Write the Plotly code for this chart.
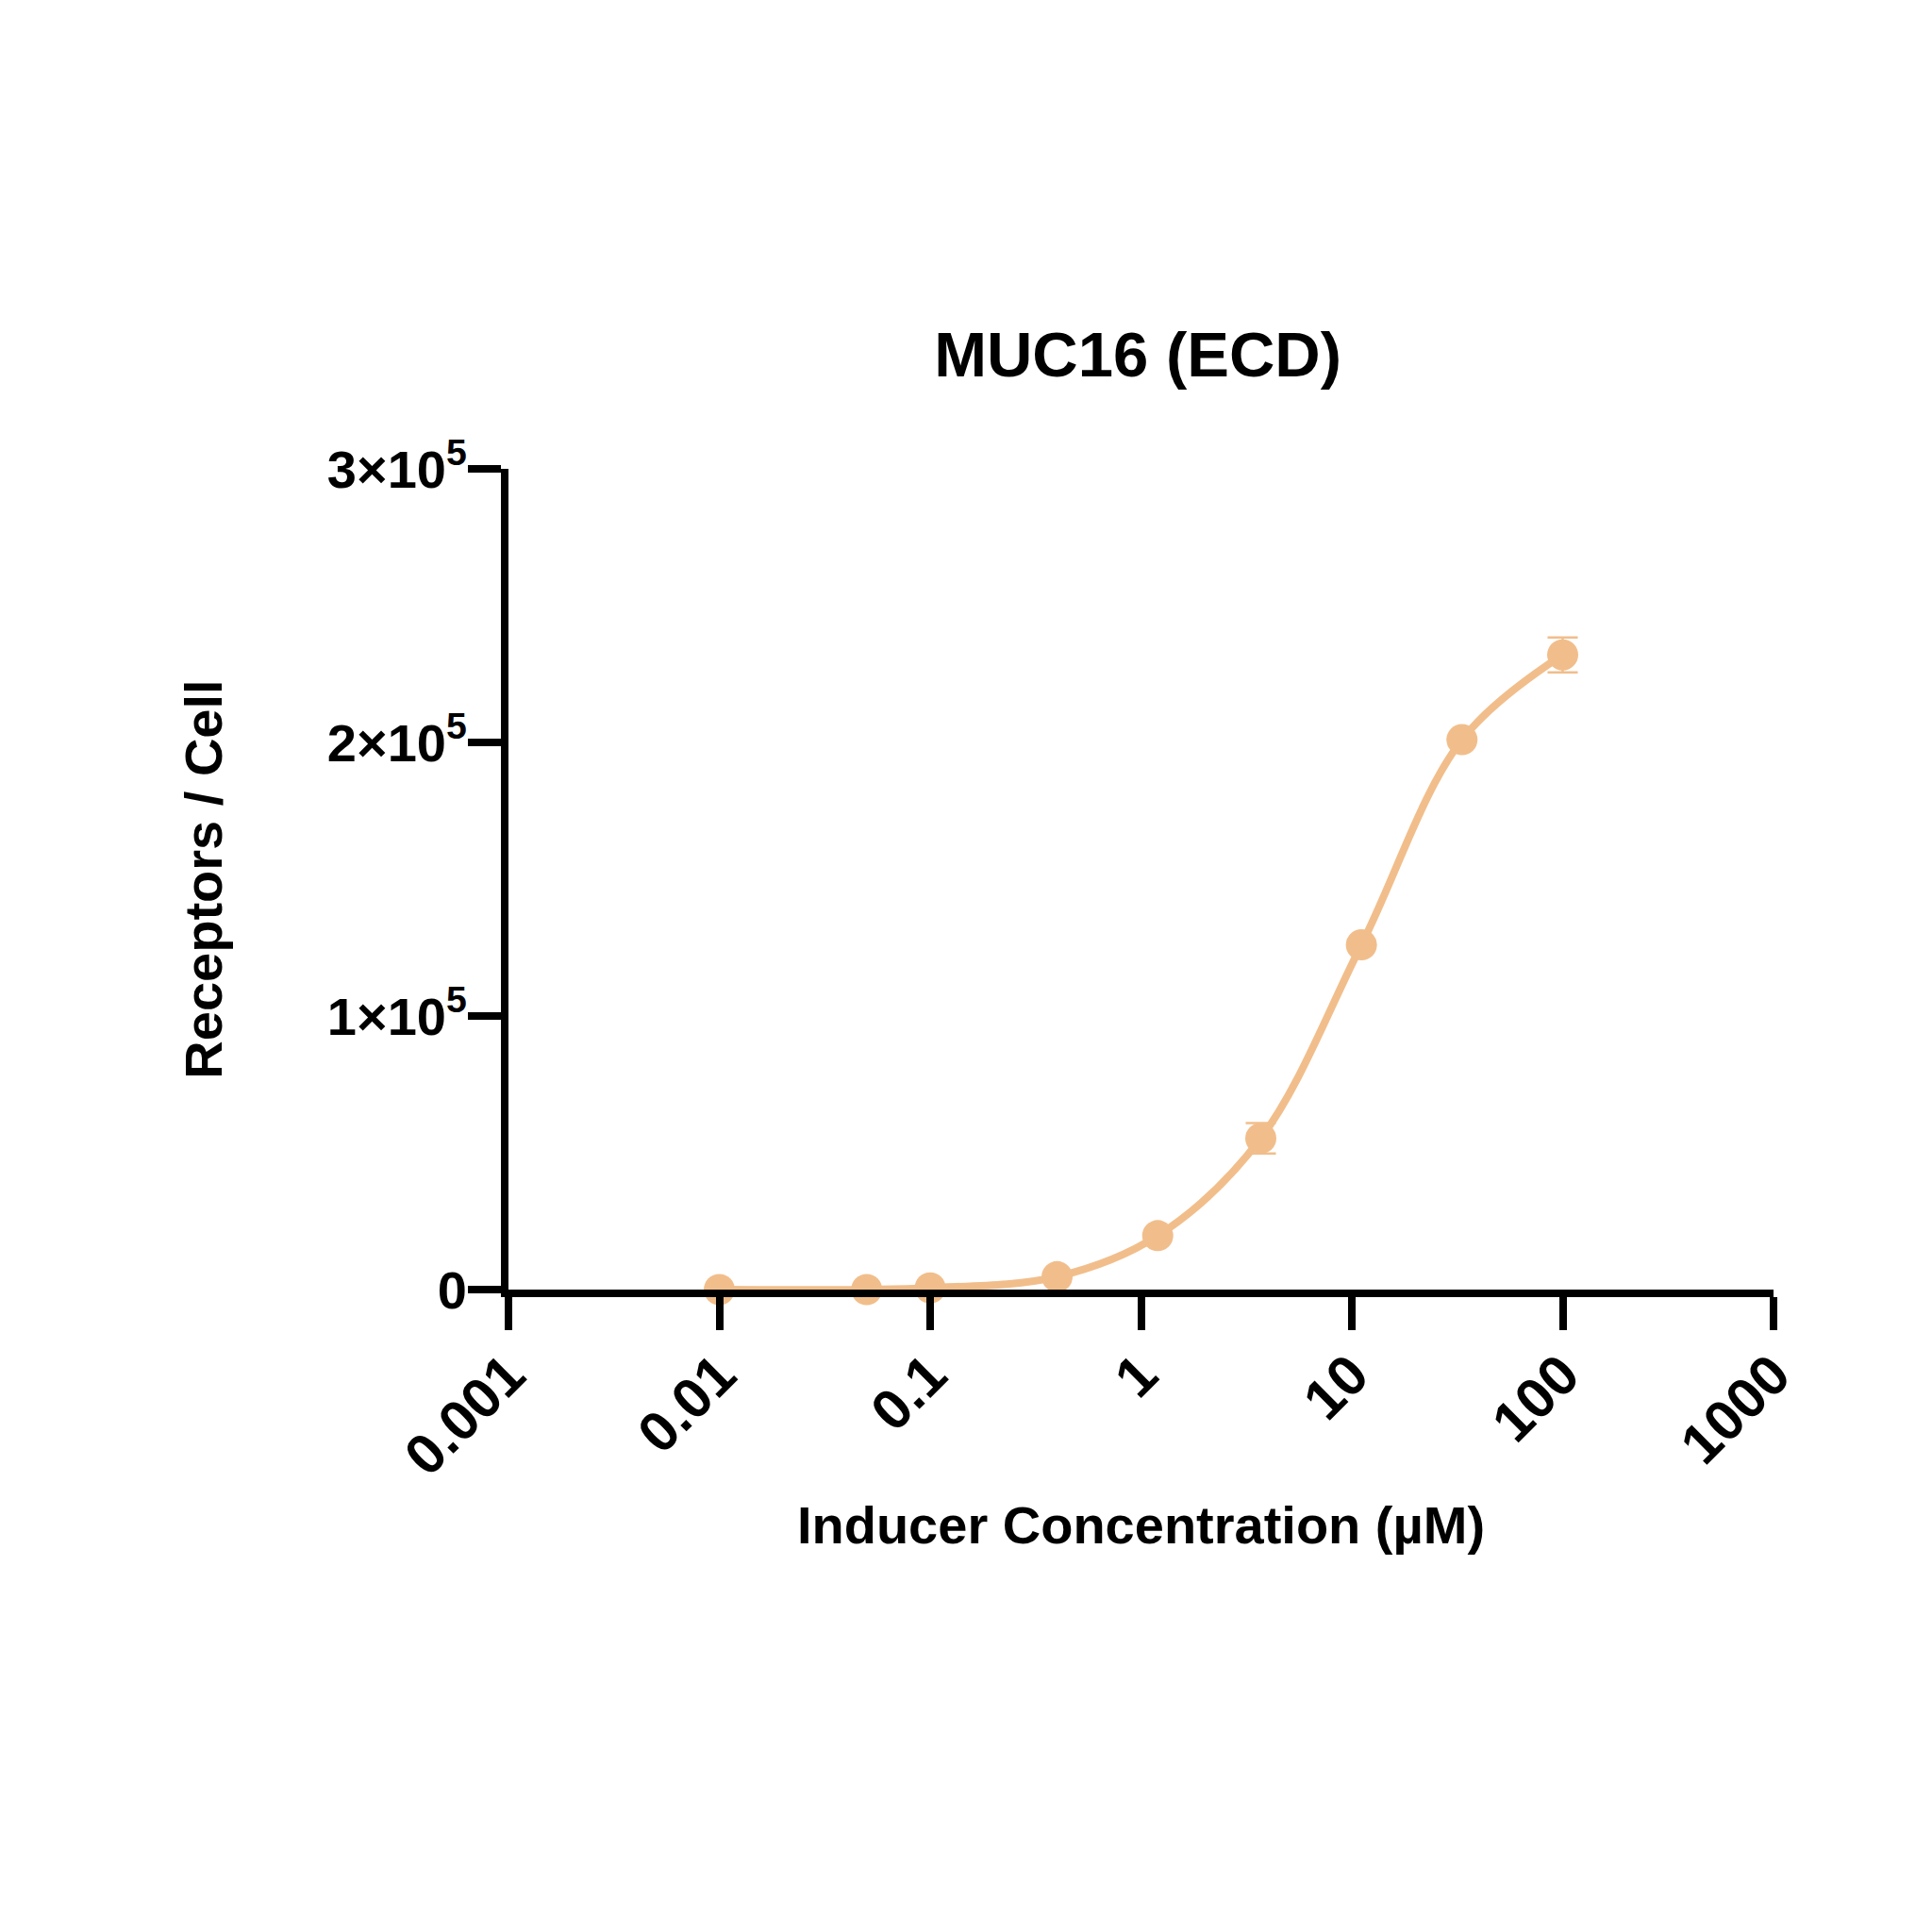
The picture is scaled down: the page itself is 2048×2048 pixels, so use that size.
import plotly.graph_objects as go

# Data
concentration = [0.01, 0.05, 0.1, 0.4, 1.2, 3.7, 11.1, 33.3, 100]
receptors = [0, 0, 600, 4700, 19700, 55300, 126000, 201000, 232000]
receptors_err = [0, 0, 0, 0, 0, 5600, 0, 0, 6400]

x_tickvals = [0.001, 0.01, 0.1, 1, 10, 100, 1000]
x_ticktext = ["0.001", "0.01", "0.1", "1", "10", "100", "1000"]
y_tickvals = [0, 100000, 200000, 300000]
y_ticktext = ["0", "1×10<sup>5</sup>", "2×10<sup>5</sup>", "3×10<sup>5</sup>"]

color = "#F1BE8B"
font_family = "Liberation Sans, Arial, sans-serif"

fig = go.Figure()

# smooth curve through the points
fig.add_trace(go.Scatter(
    x=concentration,
    y=receptors,
    mode="lines",
    line=dict(color=color, width=8, shape="spline", smoothing=1.0),
    cliponaxis=False,
    hoverinfo="skip",
))

# points with error bars
fig.add_trace(go.Scatter(
    x=concentration,
    y=receptors,
    mode="markers",
    marker=dict(color=color, size=33),
    error_y=dict(type="data", array=receptors_err, visible=True,
                 color=color, thickness=2.5, width=16),
    cliponaxis=False,
))

fig.update_layout(
    width=2048,
    height=2048,
    paper_bgcolor="white",
    plot_bgcolor="white",
    showlegend=False,
    margin=dict(l=531, r=176, t=489, b=689),
    font=dict(family=font_family, color="black"),
    title=dict(
        text="<b>MUC16 (ECD)</b>",
        font=dict(size=67, family=font_family, color="black"),
        x=0.585, xanchor="center",
        yref="container", y=1 - 368 / 2048, yanchor="middle",
    ),
    xaxis=dict(
        type="log",
        range=[-3, 3],
        tickvals=x_tickvals,
        ticktext=["<b>%s</b>" % t for t in x_ticktext],
        tickangle=-45,
        tickfont=dict(size=60, family=font_family, color="black"),
        ticklabelstandoff=-12,
        ticks="outside",
        ticklen=35,
        tickwidth=8,
        tickcolor="black",
        showline=True,
        linewidth=8,
        linecolor="black",
        showgrid=False,
        zeroline=False,
        title=dict(text="<b>Inducer Concentration (µM)</b>",
                   font=dict(size=56, family=font_family, color="black"),
                   standoff=24),
    ),
    yaxis=dict(
        range=[0, 300000],
        tickvals=y_tickvals,
        ticktext=["<b>%s</b>" % t for t in y_ticktext],
        tickfont=dict(size=56, family=font_family, color="black"),
        ticklabelstandoff=-10,
        ticks="outside",
        ticklen=35,
        tickwidth=8,
        tickcolor="black",
        showline=True,
        linewidth=8,
        linecolor="black",
        showgrid=False,
        zeroline=False,
        title=dict(text="<b>Receptors / Cell</b>",
                   font=dict(size=56, family=font_family, color="black"),
                   standoff=96),
    ),
)

fig.write_html("out.html")
